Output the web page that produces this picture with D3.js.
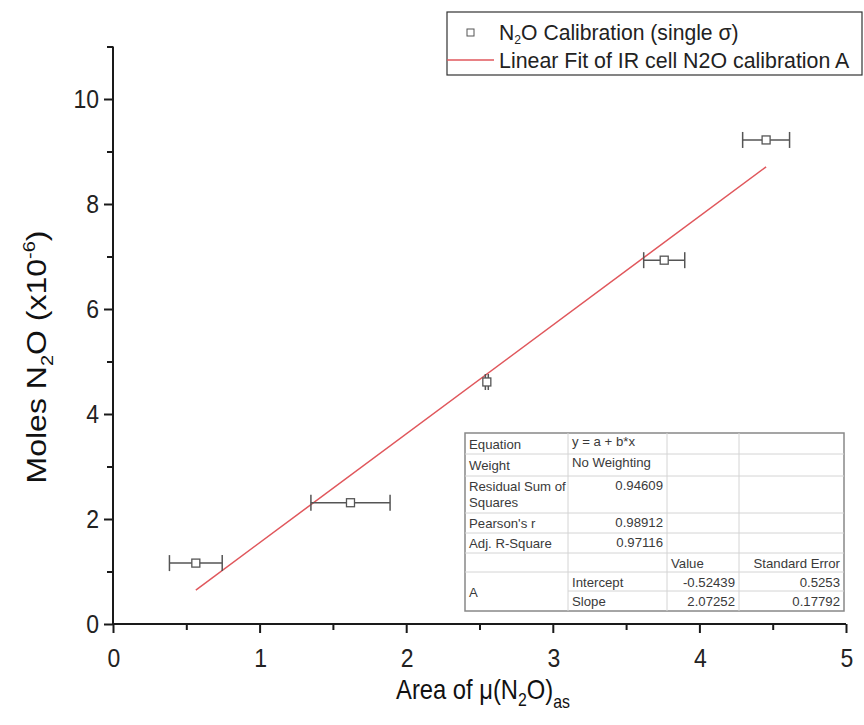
<!DOCTYPE html>
<html>
<head>
<meta charset="utf-8">
<script src="https://cdn.jsdelivr.net/npm/d3@7"></script>
<style>
  body { margin: 0; background: #fff; }
  svg { font-family: "Liberation Sans", Arial, sans-serif; }
</style>
</head>
<body>
<svg id="chart" width="864" height="725"></svg>
<script>
// Calibration points: peak area vs. moles N2O (x1e-6), with x standard deviation
const areaX = [0.565, 1.62, 2.55, 3.76, 4.455];
const molesY = [1.16, 2.31, 4.61, 6.93, 9.22];
const areaErr = [0.18, 0.27, 0.01, 0.14, 0.16];

// Linear fit coefficients y = a + b*x
const fitIntercept = -0.52439;
const fitSlope = 2.07252;

const xTicks = [0, 1, 2, 3, 4, 5];
const yTicks = [0, 2, 4, 6, 8, 10];

// Fit statistics table
const statRows = [
  ["Equation", "y = a + b*x", "", ""],
  ["Weight", "No Weighting", "", ""],
  ["Residual Sum of\nSquares", "0.94609", "", ""],
  ["Pearson's r", "0.98912", "", ""],
  ["Adj. R-Square", "0.97116", "", ""],
  ["", "", "Value", "Standard Error"],
  ["A", "Intercept", "-0.52439", "0.5253"],
  ["", "Slope", "2.07252", "0.17792"]
];

const svg = d3.select("#chart");
const x = d3.scaleLinear().domain([0, 5]).range([113, 846]);
const y = d3.scaleLinear().domain([0, 11]).range([624, 46.5]);

const axisColor = "#1a1a1a";

// text placed at (px,py), horizontally condensed by sx
function label(parent, px, py, size, anchor, sx) {
  return parent.append("text")
    .attr("transform", `translate(${px},${py}) scale(${sx},1)`)
    .attr("text-anchor", anchor).attr("font-size", size);
}

// X axis
const gx = svg.append("g").attr("transform", `translate(0,${y(0)})`);
gx.call(d3.axisBottom(x).tickValues(d3.range(0, 5.01, 0.5)).tickSize(8).tickFormat(""));
gx.call(g => g.selectAll(".tick line").attr("stroke", axisColor).attr("stroke-width", 2)
  .attr("y2", (d) => (Math.abs(d - Math.round(d)) < 1e-6 ? 9 : 6)));
gx.select(".domain").attr("stroke", axisColor).attr("stroke-width", 2).attr("d", `M${x(0)},0H${x(5)}`);
xTicks.forEach(d => {
  label(gx, x(d) + 1, 43, 25, "middle", 0.92).attr("fill", "#222").text(d);
});

// Y axis
const gy = svg.append("g").attr("transform", `translate(${x(0)},0)`);
gy.call(d3.axisLeft(y).tickValues(d3.range(0, 11.01, 1)).tickSize(8).tickFormat(""));
gy.call(g => g.selectAll(".tick line").attr("stroke", axisColor).attr("stroke-width", 2)
  .attr("x2", (d) => (d % 2 === 0 ? -9 : -6)));
gy.select(".domain").attr("stroke", axisColor).attr("stroke-width", 2).attr("d", `M0,${y(0)}V${y(11)}`);
yTicks.forEach(d => {
  label(gy, -14, y(d) + 9, 25, "end", 0.92).attr("fill", "#222").text(d);
});

// Axis titles
const yt = svg.append("text")
  .attr("transform", `translate(46,${357}) rotate(-90) scale(1,0.86)`)
  .attr("text-anchor", "middle").attr("font-size", 32).attr("fill", "#111");
yt.append("tspan").text("Moles N");
yt.append("tspan").attr("font-size", 20).attr("dy", 8).text("2");
yt.append("tspan").attr("dy", -8).text("O (x10");
yt.append("tspan").attr("font-size", 20).attr("dy", -13).text("-6");
yt.append("tspan").attr("dy", 13).text(")");

const xt = label(svg, 483, 699, 27, "middle", 0.88).attr("fill", "#111");
xt.append("tspan").text("Area of μ(N");
xt.append("tspan").attr("font-size", 18).attr("dy", 7).text("2");
xt.append("tspan").attr("dy", -7).text("O)");
xt.append("tspan").attr("font-size", 18).attr("dy", 9).text("as");

// Fit line across the data range
const xMin = d3.min(areaX), xMax = d3.max(areaX);
svg.append("line")
  .attr("x1", x(xMin)).attr("y1", y(fitIntercept + fitSlope * xMin))
  .attr("x2", x(xMax)).attr("y2", y(fitIntercept + fitSlope * xMax))
  .attr("stroke", "#e0575c").attr("stroke-width", 1.5);

// Error bars and markers
const pts = areaX.map((v, i) => ({ x: v, y: molesY[i], e: areaErr[i] }));
const eb = svg.append("g").attr("stroke", "#555").attr("stroke-width", 1.5).attr("fill", "none");
pts.forEach(p => {
  const cy = y(p.y);
  eb.append("line").attr("x1", x(p.x - p.e)).attr("x2", x(p.x + p.e)).attr("y1", cy).attr("y2", cy);
  [p.x - p.e, p.x + p.e].forEach(v => {
    eb.append("line").attr("x1", x(v)).attr("x2", x(v)).attr("y1", cy - 8).attr("y2", cy + 8);
  });
});
svg.append("g").selectAll("rect").data(pts).join("rect")
  .attr("x", d => x(d.x) - 4).attr("y", d => y(d.y) - 4)
  .attr("width", 8).attr("height", 8)
  .attr("fill", "#fff").attr("stroke", "#555").attr("stroke-width", 1.3);

// Legend
const lg = svg.append("g");
lg.append("rect").attr("x", 447).attr("y", 12).attr("width", 415).attr("height", 63)
  .attr("fill", "#fff").attr("stroke", "#333").attr("stroke-width", 1.2);
lg.append("rect").attr("x", 467).attr("y", 29).attr("width", 7).attr("height", 7)
  .attr("fill", "#fff").attr("stroke", "#555").attr("stroke-width", 1);
const l1 = label(lg, 499, 40, 22.5, "start", 0.94).attr("fill", "#222");
l1.append("tspan").text("N");
l1.append("tspan").attr("font-size", 13).attr("dy", 4).text("2");
l1.append("tspan").attr("dy", -4).text("O Calibration (single σ)");
lg.append("line").attr("x1", 447).attr("x2", 494).attr("y1", 60).attr("y2", 60)
  .attr("stroke", "#e0575c").attr("stroke-width", 1.5);
label(lg, 499, 68, 22.5, "start", 0.95).attr("fill", "#222")
  .text("Linear Fit of IR cell N2O calibration A");

// Statistics table
const colX = [465, 568, 667, 739, 844];
const rowY = [433, 454, 476, 513, 533, 553, 572, 591, 611];
const tb = svg.append("g").attr("font-size", 13.2).attr("fill", "#3a3a3a");
tb.append("rect").attr("x", colX[0]).attr("y", rowY[0])
  .attr("width", colX[4] - colX[0]).attr("height", rowY[8] - rowY[0])
  .attr("fill", "#fff").attr("stroke", "#888").attr("stroke-width", 1.5);
rowY.slice(1, -1).forEach((ry, i) => {
  const startX = (i + 1 === 7) ? colX[1] : colX[0];
  tb.append("line").attr("x1", startX).attr("x2", colX[4]).attr("y1", ry).attr("y2", ry)
    .attr("stroke", "#d4d4d4");
});
colX.slice(1, -1).forEach(cx => {
  tb.append("line").attr("x1", cx).attr("x2", cx).attr("y1", rowY[0]).attr("y2", rowY[8])
    .attr("stroke", "#d4d4d4");
});
statRows.forEach((row, r) => {
  row.forEach((cell, c) => {
    if (!cell) return;
    const lines = cell.split("\n");
    const top = rowY[r];
    let bottom = rowY[r + 1];
    if (r === 6 && c === 0) bottom = rowY[8];
    const numeric = /^-?[0-9.]+$/.test(cell) && c > 0;
    const header = r === 5;
    const anchorEnd = numeric || (header && c === 3);
    const tx = anchorEnd ? colX[c + 1] - 4 : colX[c] + 4;
    const t = tb.append("text").attr("text-anchor", anchorEnd ? "end" : "start");
    if (lines.length > 1) {
      lines.forEach((ln, k) => t.append("tspan").attr("x", tx).attr("y", top + 15 + k * 16).text(ln));
    } else {
      const ty = (numeric && r >= 2 && r <= 4) ? top + 14 : (top + bottom) / 2 + 5;
      t.attr("x", tx).attr("y", c === 1 && r < 2 ? top + 13 : ty).text(cell);
    }
  });
});
</script>
</body>
</html>
